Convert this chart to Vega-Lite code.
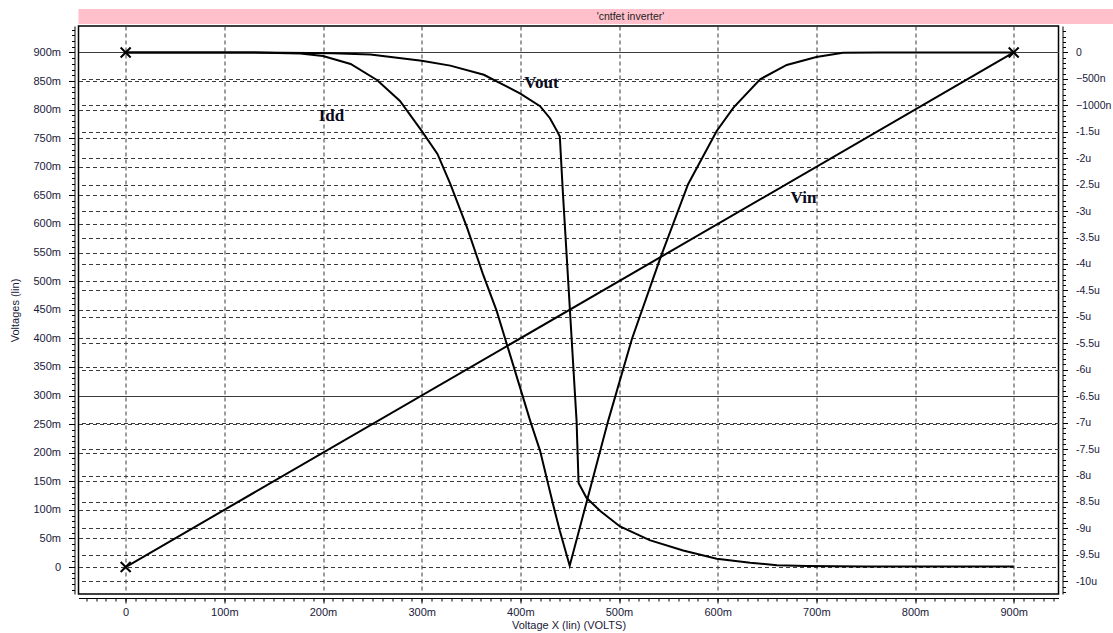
{
  "$schema": "https://vega.github.io/schema/vega-lite/v6.json",
  "padding": {"left": 8.5, "top": 9, "right": 0, "bottom": 0},
  "background": "white",
  "spacing": 1,
  "config": {
    "font": "Liberation Sans",
    "view": {"stroke": "black", "strokeWidth": 1.5},
    "axis": {
      "labelFont": "Liberation Sans", "labelFontSize": 11, "labelColor": "#1a1a3a",
      "titleFont": "Liberation Sans", "titleFontSize": 11, "titleFontWeight": "normal", "titleColor": "#1a1a3a",
      "tickColor": "black", "domainColor": "black",
      "gridColor": "#3a3a3a", "gridDash": [4, 3], "gridOpacity": 1, "gridWidth": 1
    }
  },
  "datasets": {
    "vv": [
      {"series": "Vin", "x": 0, "v": 0},
      {"series": "Vin", "x": 900, "v": 900},
      {"series": "Vout", "x": 0, "v": 900},
      {"series": "Vout", "x": 50, "v": 900},
      {"series": "Vout", "x": 100, "v": 900},
      {"series": "Vout", "x": 126, "v": 900},
      {"series": "Vout", "x": 160, "v": 899.5},
      {"series": "Vout", "x": 210, "v": 898.5},
      {"series": "Vout", "x": 248, "v": 896.5},
      {"series": "Vout", "x": 300, "v": 885.5},
      {"series": "Vout", "x": 329, "v": 877},
      {"series": "Vout", "x": 363, "v": 861},
      {"series": "Vout", "x": 380, "v": 846},
      {"series": "Vout", "x": 400, "v": 828},
      {"series": "Vout", "x": 420, "v": 806},
      {"series": "Vout", "x": 430, "v": 785},
      {"series": "Vout", "x": 438, "v": 760},
      {"series": "Vout", "x": 440, "v": 753},
      {"series": "Vout", "x": 443, "v": 658},
      {"series": "Vout", "x": 457, "v": 255},
      {"series": "Vout", "x": 459, "v": 147},
      {"series": "Vout", "x": 467, "v": 121},
      {"series": "Vout", "x": 481, "v": 98},
      {"series": "Vout", "x": 501, "v": 71},
      {"series": "Vout", "x": 531, "v": 47},
      {"series": "Vout", "x": 565, "v": 29},
      {"series": "Vout", "x": 599, "v": 14.5},
      {"series": "Vout", "x": 633, "v": 7.5},
      {"series": "Vout", "x": 660, "v": 3},
      {"series": "Vout", "x": 690, "v": 1.7},
      {"series": "Vout", "x": 750, "v": 1},
      {"series": "Vout", "x": 900, "v": 1}
    ],
    "idd": [
      {"x": 0, "i": 0},
      {"x": 100, "i": 0},
      {"x": 126, "i": 0},
      {"x": 177, "i": -0.02},
      {"x": 200, "i": -0.066},
      {"x": 228, "i": -0.217},
      {"x": 255, "i": -0.526},
      {"x": 278, "i": -0.917},
      {"x": 300, "i": -1.484},
      {"x": 316, "i": -1.919},
      {"x": 329, "i": -2.486},
      {"x": 346, "i": -3.312},
      {"x": 362, "i": -4.187},
      {"x": 376, "i": -4.887},
      {"x": 410, "i": -6.966},
      {"x": 420, "i": -7.533},
      {"x": 433, "i": -8.535},
      {"x": 440, "i": -9.045},
      {"x": 450, "i": -9.707},
      {"x": 489, "i": -6.966},
      {"x": 513, "i": -5.422},
      {"x": 542, "i": -3.879},
      {"x": 570, "i": -2.491},
      {"x": 599, "i": -1.484},
      {"x": 616, "i": -1.043},
      {"x": 643, "i": -0.507},
      {"x": 670, "i": -0.236},
      {"x": 700, "i": -0.085},
      {"x": 727, "i": -0.004},
      {"x": 764, "i": 0},
      {"x": 900, "i": 0}
    ],
    "markers": [
      {"x": 0, "v": 0},
      {"x": 0, "v": 900},
      {"x": 900, "v": 900}
    ],
    "labels_v": [
      {"name": "Vout", "x": 421.4, "v": 846.6},
      {"name": "Vin", "x": 686.9, "v": 645.4}
    ],
    "labels_i": [
      {"name": "Idd", "x": 208.6, "i": -1.2}
    ]
  },
  "vconcat": [
    {
      "width": 1104,
      "height": 15,
      "view": {"fill": "#ffc0cb", "stroke": null},
      "data": {"values": [{"title": "'cntfet inverter'"}]},
      "mark": {"type": "text", "font": "Liberation Sans", "fontSize": 10.5, "color": "#222222"},
      "encoding": {"text": {"field": "title", "type": "nominal"}}
    },
    {
      "width": 980,
      "height": 568,
      "resolve": {"scale": {"y": "independent"}, "axis": {"x": "independent", "y": "independent"}},
      "layer": [
        {
          "data": {"name": "vv"},
          "mark": {"type": "line", "color": "black", "strokeWidth": 2},
          "encoding": {
            "x": {
              "field": "x", "type": "quantitative",
              "scale": {"domain": [-47.8, 945.4], "nice": false, "zero": false},
              "axis": {
                "orient": "bottom", "offset": 4, "values": [0, 100, 200, 300, 400, 500, 600, 700, 800, 900],
                "labelExpr": "datum.value == 0 ? '0' : datum.value + 'm'",
                "title": "Voltage X (lin) (VOLTS)", "grid": true, "tickSize": 5,
                "labelPadding": 3, "titlePadding": 2
              }
            },
            "y": {
              "field": "v", "type": "quantitative",
              "scale": {"domain": [-47.2, 946.3], "nice": false, "zero": false},
              "axis": {
                "orient": "left", "offset": 4,
                "values": [0, 50, 100, 150, 200, 250, 300, 350, 400, 450, 500, 550, 600, 650, 700, 750, 800, 850, 900],
                "labelExpr": "datum.value == 0 ? '0' : datum.value + 'm'",
                "title": "Voltages (lin)", "grid": true, "tickSize": 6, "labelPadding": 8, "titlePadding": 12
              }
            },
            "detail": {"field": "series", "type": "nominal"}
          }
        },
        {
          "data": {"name": "idd"},
          "mark": {"type": "line", "color": "black", "strokeWidth": 2},
          "encoding": {
            "x": {"field": "x", "type": "quantitative", "scale": {"domain": [-47.8, 945.4], "nice": false, "zero": false}, "axis": null},
            "y": {
              "field": "i", "type": "quantitative",
              "scale": {"domain": [-10.24, 0.5], "nice": false, "zero": false},
              "axis": {
                "orient": "right", "offset": 4,
                "values": [0, -0.5, -1, -1.5, -2, -2.5, -3, -3.5, -4, -4.5, -5, -5.5, -6, -6.5, -7, -7.5, -8, -8.5, -9, -9.5, -10],
                "labelExpr": "datum.value == 0 ? '0' : (datum.value >= -1 ? format(datum.value * 1000, 'd') + 'n' : datum.value + 'u')",
                "title": null, "grid": true, "tickSize": 5, "labelPadding": 8, "labelFontSize": 10.5
              }
            }
          }
        },
        {
          "data": {"name": "markers"},
          "mark": {"type": "point", "shape": "M-1,-1L1,1M-1,1L1,-1", "size": 100, "filled": false, "stroke": "black", "strokeWidth": 2, "opacity": 1},
          "encoding": {
            "x": {
              "field": "x", "type": "quantitative",
              "scale": {"domain": [-47.8, 945.4], "nice": false, "zero": false},
              "axis": {
                "orient": "bottom", "offset": 4, "labels": false, "domain": false, "grid": false, "tickSize": 3, "title": null,
                "values": [-40, -30, -20, -10, 0, 10, 20, 30, 40, 50, 60, 70, 80, 90, 100, 110, 120, 130, 140, 150, 160, 170, 180, 190, 200, 210, 220, 230, 240, 250, 260, 270, 280, 290, 300, 310, 320, 330, 340, 350, 360, 370, 380, 390, 400, 410, 420, 430, 440, 450, 460, 470, 480, 490, 500, 510, 520, 530, 540, 550, 560, 570, 580, 590, 600, 610, 620, 630, 640, 650, 660, 670, 680, 690, 700, 710, 720, 730, 740, 750, 760, 770, 780, 790, 800, 810, 820, 830, 840, 850, 860, 870, 880, 890, 900, 910, 920, 930, 940]
              }
            },
            "y": {
              "field": "v", "type": "quantitative",
              "scale": {"domain": [-47.2, 946.3], "nice": false, "zero": false},
              "axis": {
                "orient": "left", "offset": 4, "labels": false, "domain": false, "grid": false, "tickSize": 3, "title": null,
                "values": [-40, -30, -20, -10, 0, 10, 20, 30, 40, 50, 60, 70, 80, 90, 100, 110, 120, 130, 140, 150, 160, 170, 180, 190, 200, 210, 220, 230, 240, 250, 260, 270, 280, 290, 300, 310, 320, 330, 340, 350, 360, 370, 380, 390, 400, 410, 420, 430, 440, 450, 460, 470, 480, 490, 500, 510, 520, 530, 540, 550, 560, 570, 580, 590, 600, 610, 620, 630, 640, 650, 660, 670, 680, 690, 700, 710, 720, 730, 740, 750, 760, 770, 780, 790, 800, 810, 820, 830, 840, 850, 860, 870, 880, 890, 900, 910, 920, 930, 940]
              }
            }
          }
        },
        {
          "data": {"name": "labels_i"},
          "mark": {"type": "text", "font": "Liberation Serif", "fontSize": 17, "fontWeight": "bold", "color": "#0a0a20"},
          "encoding": {
            "x": {"field": "x", "type": "quantitative", "scale": {"domain": [-47.8, 945.4], "nice": false, "zero": false}, "axis": null},
            "y": {
              "field": "i", "type": "quantitative",
              "scale": {"domain": [-10.24, 0.5], "nice": false, "zero": false},
              "axis": {
                "orient": "right", "offset": 4, "labels": false, "domain": false, "grid": false, "tickSize": 3, "title": null,
                "values": [0.4, 0.3, 0.2, 0.1, 0, -0.1, -0.2, -0.3, -0.4, -0.5, -0.6, -0.7, -0.8, -0.9, -1, -1.1, -1.2, -1.3, -1.4, -1.5, -1.6, -1.7, -1.8, -1.9, -2, -2.1, -2.2, -2.3, -2.4, -2.5, -2.6, -2.7, -2.8, -2.9, -3, -3.1, -3.2, -3.3, -3.4, -3.5, -3.6, -3.7, -3.8, -3.9, -4, -4.1, -4.2, -4.3, -4.4, -4.5, -4.6, -4.7, -4.8, -4.9, -5, -5.1, -5.2, -5.3, -5.4, -5.5, -5.6, -5.7, -5.8, -5.9, -6, -6.1, -6.2, -6.3, -6.4, -6.5, -6.6, -6.7, -6.8, -6.9, -7, -7.1, -7.2, -7.3, -7.4, -7.5, -7.6, -7.7, -7.8, -7.9, -8, -8.1, -8.2, -8.3, -8.4, -8.5, -8.6, -8.7, -8.8, -8.9, -9, -9.1, -9.2, -9.3, -9.4, -9.5, -9.6, -9.7, -9.8, -9.9, -10, -10.1, -10.2]
              }
            },
            "text": {"field": "name", "type": "nominal"}
          }
        },
        {
          "data": {"name": "labels_v"},
          "mark": {"type": "text", "font": "Liberation Serif", "fontSize": 17, "fontWeight": "bold", "color": "#0a0a20"},
          "encoding": {
            "x": {"field": "x", "type": "quantitative", "scale": {"domain": [-47.8, 945.4], "nice": false, "zero": false}, "axis": null},
            "y": {"field": "v", "type": "quantitative", "scale": {"domain": [-47.2, 946.3], "nice": false, "zero": false}, "axis": null},
            "text": {"field": "name", "type": "nominal"}
          }
        }
      ]
    }
  ]
}
